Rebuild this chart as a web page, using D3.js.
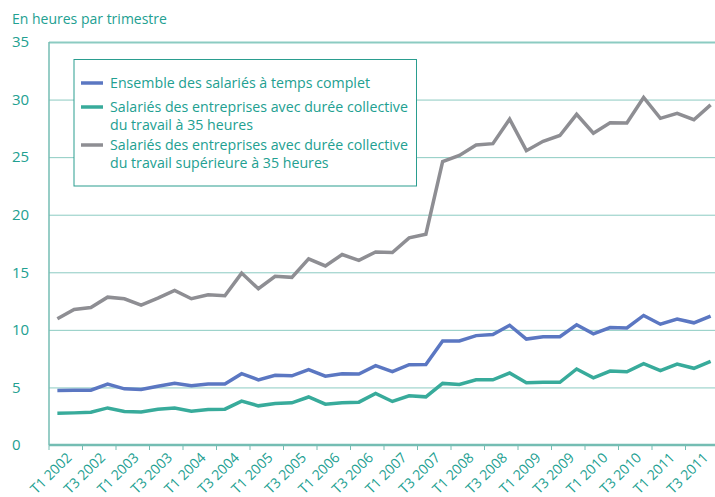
<!DOCTYPE html>
<html>
<head>
<meta charset="utf-8">
<script src="https://cdn.jsdelivr.net/npm/d3@7"></script>
<style>
  body { margin: 0; background: #fff; }
  svg { display: block; font-family: "Open Sans", sans-serif; }
</style>
</head>
<body>
<svg id="chart" width="715" height="497"></svg>
<script>
// quarters shown on the x axis
const quarters = [
  "T1 2002", "T2 2002", "T3 2002", "T4 2002",
  "T1 2003", "T2 2003", "T3 2003", "T4 2003",
  "T1 2004", "T2 2004", "T3 2004", "T4 2004",
  "T1 2005", "T2 2005", "T3 2005", "T4 2005",
  "T1 2006", "T2 2006", "T3 2006", "T4 2006",
  "T1 2007", "T2 2007", "T3 2007", "T4 2007",
  "T1 2008", "T2 2008", "T3 2008", "T4 2008",
  "T1 2009", "T2 2009", "T3 2009", "T4 2009",
  "T1 2010", "T2 2010", "T3 2010", "T4 2010",
  "T1 2011", "T2 2011", "T3 2011", "T4 2011"
];

// Ensemble des salariés à temps complet
const ensemble = [
  4.74, 4.76, 4.76, 5.29, 4.88, 4.83, 5.11, 5.37, 5.14, 5.29,
  5.29, 6.19, 5.66, 6.05, 6.01, 6.55, 5.98, 6.19, 6.16, 6.89,
  6.37, 6.98, 7.0, 9.04, 9.04, 9.5, 9.59, 10.4, 9.2, 9.41,
  9.41, 10.44, 9.65, 10.2, 10.17, 11.25, 10.49, 10.93, 10.61, 11.2
];

// durée collective à 35 heures
const collective35 = [
  2.76, 2.79, 2.85, 3.22, 2.91, 2.87, 3.11, 3.22, 2.94, 3.08,
  3.11, 3.81, 3.4, 3.61, 3.66, 4.17, 3.55, 3.66, 3.72, 4.48,
  3.78, 4.27, 4.18, 5.35, 5.26, 5.66, 5.66, 6.25, 5.4, 5.46,
  5.44, 6.6, 5.84, 6.42, 6.36, 7.06, 6.45, 7.03, 6.66, 7.27
];

// durée collective supérieure à 35 heures
const collectiveSup35 = [
  10.96, 11.77, 11.94, 12.84, 12.7, 12.14, 12.75, 13.43, 12.7, 13.05,
  12.96, 14.93, 13.57, 14.65, 14.56, 16.16, 15.55, 16.54, 16.04, 16.77,
  16.71, 17.99, 18.31, 24.62, 25.15, 26.05, 26.17, 28.3, 25.56, 26.38,
  26.88, 28.72, 27.08, 27.98, 27.96, 30.18, 28.37, 28.8, 28.25, 29.54
];

const yTicks = [0, 5, 10, 15, 20, 25, 30, 35];

const series = [
  { name: ["Ensemble des salariés à temps complet"], values: ensemble, colour: "#5b77c2" },
  { name: ["Salariés des entreprises avec durée collective", "du travail à 35 heures"], values: collective35, colour: "#38ab9b" },
  { name: ["Salariés des entreprises avec durée collective", "du travail supérieure à 35 heures"], values: collectiveSup35, colour: "#8e8e93" }
];

const teal = "#22a091";
const grid = "#8ccbc2";

const svg = d3.select("#chart");
const mLeft = 49, mTop = 42, mBottom = 445;

const x = d3.scaleBand().domain(quarters).range([mLeft, mLeft + 40 * 16.75]);
const y = d3.scaleLinear().domain([0, 35]).range([mBottom, mTop]);
const bw = x.bandwidth();

// title
svg.append("text")
  .attr("x", 12).attr("y", 24)
  .style("font-size", "14px")
  .style("fill", teal)
  .text("En heures par trimestre");

// y axis and gridlines
const yAxis = svg.append("g")
  .attr("transform", "translate(" + mLeft + ",0)")
  .call(d3.axisLeft(y).tickValues(yTicks).tickSize(-(715 - mLeft)).tickPadding(0));
yAxis.select(".domain").remove();
yAxis.selectAll(".tick line")
  .attr("stroke", grid)
  .attr("stroke-width", d => d === 35 ? 2 : 1);
yAxis.selectAll(".tick text")
  .attr("x", 12 - mLeft)
  .attr("text-anchor", "start")
  .style("font-size", "15px")
  .style("font-family", "Open Sans, sans-serif")
  .style("fill", teal);

svg.append("line")
  .attr("x1", mLeft).attr("x2", mLeft)
  .attr("y1", mTop).attr("y2", mBottom)
  .attr("stroke", "#74bdb3").attr("stroke-width", 1.5);

// x axis
const xAxis = svg.append("g")
  .attr("transform", "translate(0," + mBottom + ")")
  .call(d3.axisBottom(x).tickValues(quarters.filter((q, i) => i % 2 === 0)).tickSize(5));
xAxis.select(".domain")
  .attr("d", "M" + mLeft + ",0H715")
  .attr("stroke", "#74bdb3").attr("stroke-width", 2.5);
xAxis.selectAll(".tick line")
  .attr("x1", -bw / 2).attr("x2", -bw / 2)
  .attr("stroke", "#74bdb3").attr("stroke-width", 1);
xAxis.selectAll(".tick text")
  .attr("text-anchor", "end")
  .attr("transform", "translate(" + (bw * 0.7) + ",10) rotate(-45)")
  .attr("x", 0).attr("y", 0).attr("dy", "0.35em")
  .style("font-size", "14px")
  .style("font-family", "Open Sans, sans-serif")
  .style("fill", teal);

// lines
const line = d3.line()
  .x((d, i) => x(quarters[i]) + bw / 2)
  .y(d => y(d));

svg.append("g")
  .selectAll("path")
  .data(series)
  .enter()
    .append("path")
    .attr("d", d => line(d.values))
    .attr("fill", "none")
    .attr("stroke", d => d.colour)
    .attr("stroke-width", 3.5)
    .attr("stroke-linejoin", "miter");

// legend
const legend = svg.append("g");
legend.append("rect")
  .attr("x", 74).attr("y", 59.5)
  .attr("width", 342.5).attr("height", 126.5)
  .attr("fill", "#fff")
  .attr("stroke", "#2a9d8f").attr("stroke-width", 1);

const legendRows = [83, 107, 145];
series.forEach((s, i) => {
  legend.append("line")
    .attr("x1", 81).attr("x2", 103)
    .attr("y1", legendRows[i]).attr("y2", legendRows[i])
    .attr("stroke", s.colour).attr("stroke-width", 3.5);
  s.name.forEach((t, j) => {
    legend.append("text")
      .attr("x", 110).attr("y", legendRows[i] + j * 18)
      .attr("dy", "0.35em")
      .style("font-size", "14.2px")
      .style("fill", teal)
      .text(t);
  });
});
</script>
</body>
</html>
